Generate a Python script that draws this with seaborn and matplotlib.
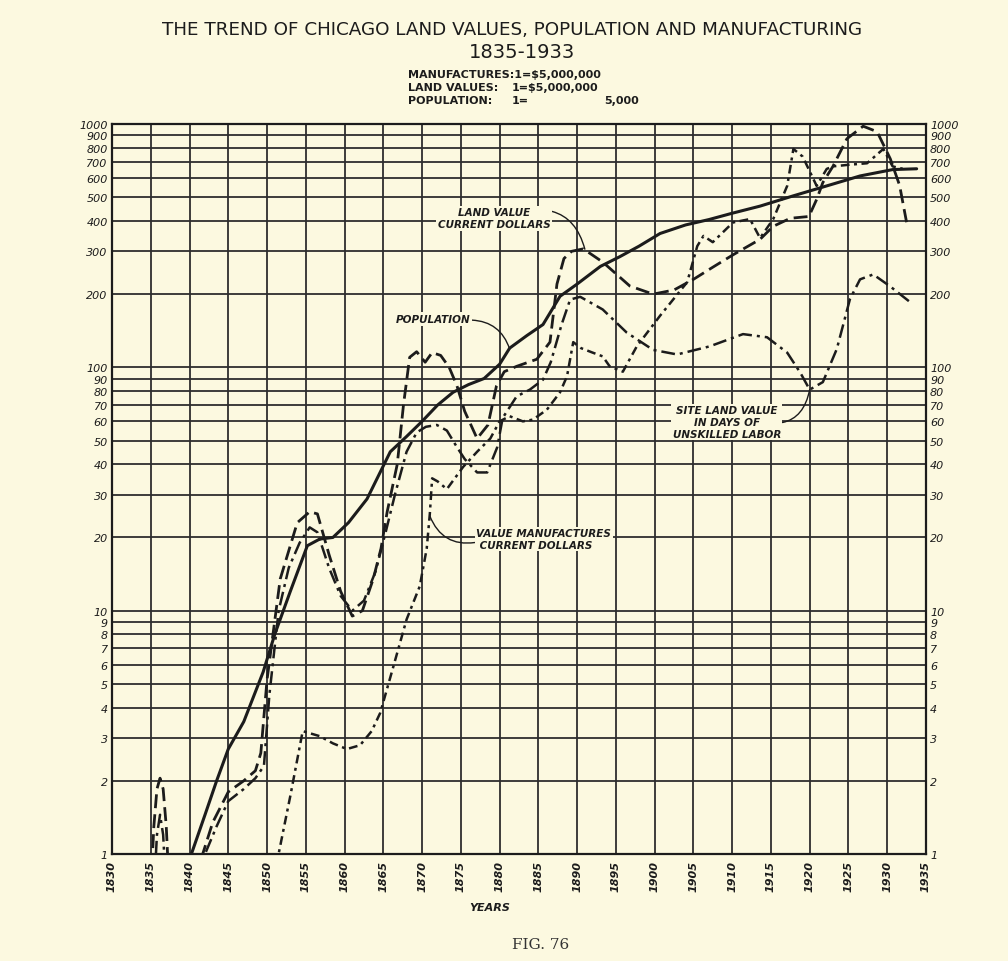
import numpy as np
import pandas as pd
import matplotlib
matplotlib.use("Agg")
import matplotlib.pyplot as plt
import seaborn as sns

# --- data (log scale units, see legend in title) ---
pop_years = [1840.0, 1842, 1843.5, 1845, 1847, 1849.5, 1851, 1853, 1855.2, 1856.8, 1858.5,
             1860.5, 1862.9, 1865.9, 1868, 1870, 1872, 1874, 1876, 1878, 1880, 1881.3,
             1883.5, 1885.6, 1887.8, 1890, 1893, 1895.5, 1898, 1900.7, 1904, 1907, 1910,
             1913.6, 1917.8, 1922.2, 1926.5, 1930.7, 1933.8]
pop_vals = [0.95, 1.45, 2.0, 2.7, 3.5, 5.6, 8.0, 12, 18.5, 19.7, 20.0,
            23, 28.8, 45, 52, 60, 70, 79, 85, 90, 103, 120,
            135, 150, 196, 220, 260, 285, 315, 355, 385, 405, 430,
            460, 506, 557, 612, 650, 655]

land_early_years = [1834.9, 1835.4, 1835.8, 1836.2, 1836.6, 1837.0, 1837.5]
land_early_vals = [0.6, 1.3, 1.85, 2.05, 1.85, 1.3, 0.6]
land_years = [1840.8, 1841.7, 1843, 1845, 1847, 1848.5, 1849.2, 1850, 1851.7, 1853.9,
              1855.5, 1856.5, 1858, 1859.5, 1861, 1862.3, 1863.7, 1864.7, 1865.5, 1866.8,
              1867.6, 1868.4, 1869.3, 1870.4, 1871.3, 1872.4, 1873.5, 1874.5, 1875.5, 1877.1,
              1878.5, 1879.6, 1880.6, 1882.2, 1884.8, 1886.5, 1887.4, 1888.3, 1889.3, 1890.8,
              1893.3, 1896.8, 1899.8, 1902.5, 1905, 1907.5, 1910.1, 1913.6, 1915.3, 1917.5,
              1919.9, 1920.9, 1921.7, 1923, 1924.8, 1926.9, 1928.7, 1930.4, 1931.6, 1932.5]
land_vals = [0.8, 1.0, 1.35, 1.8, 2.0, 2.2, 2.6, 5.2, 13.5, 23,
             25.5, 25, 17, 12, 9.5, 10, 13.5, 18, 25.5, 40,
             70, 110, 116, 105, 115, 112, 100, 84, 66, 51,
             58, 84, 96, 101, 108, 127, 220, 280, 300, 307,
             271, 216, 200, 208, 230, 258, 290, 336, 380, 410,
             417, 490, 575, 670, 870, 980, 930, 720, 560, 395]

site_early_years = [1835.3, 1835.8, 1836.2, 1836.6, 1837.1]
site_early_vals = [0.6, 1.2, 1.45, 1.2, 0.6]
site_years = [1841.2, 1842, 1843.5, 1845, 1847, 1848.5, 1849.6, 1850.3, 1851.5, 1852.8,
              1854.2, 1855.5, 1856.5, 1858, 1859.5, 1861, 1862.5, 1864, 1865.3, 1866.5,
              1868, 1869.3, 1870.5, 1871.9, 1873.2, 1874.5, 1875.5, 1877.1, 1878.4, 1879.7,
              1880.4, 1882.2, 1883.9, 1885.6, 1886.6, 1888, 1889.1, 1890.4, 1893.3, 1896.4,
              1899.8, 1902.9, 1907.1, 1911.4, 1914.5, 1917.1, 1918.8, 1920, 1921.7, 1923.5,
              1925.2, 1926.5, 1928.2, 1930.4, 1933]
site_vals = [0.8, 1.0, 1.3, 1.65, 1.85, 2.05, 2.3, 4.5, 10, 15,
             19, 22, 21, 15, 11.5, 10, 11, 14.5, 21, 30,
             45, 54, 57, 58, 55, 47, 42, 37, 37, 47,
             62, 76, 81, 89, 105, 150, 190, 195, 173, 139,
             118, 113, 122, 137, 133, 115, 95, 81, 87, 119,
             191, 230, 241, 215, 185]

manuf_years = [1851.2, 1853, 1854.6, 1856.8, 1858.5, 1860.3, 1862, 1863.5, 1864.6, 1866.3,
               1868, 1869.7, 1870.6, 1871.0, 1871.3, 1872.0, 1873.2, 1875.3, 1877.1, 1878.8,
               1880, 1881.3, 1883, 1884.3, 1886.1, 1887.8, 1888.7, 1889.5, 1890.5, 1892,
               1893.3, 1894.2, 1895.9, 1897.7, 1900.7, 1904.2, 1905.5, 1906.3, 1907.5, 1910.1,
               1912.3, 1913.6, 1915.3, 1917.1, 1917.9, 1919.1, 1920.9, 1922.2, 1923, 1925,
               1927.4, 1929.5, 1930.7, 1932]
manuf_vals = [0.9, 1.73, 3.2, 3.05, 2.85, 2.7, 2.8, 3.2, 3.8, 5.9,
              9.2, 12.6, 18, 25, 35, 34, 31.6, 39, 45, 51,
              60, 63, 60, 61, 67, 79, 92, 127, 120, 115,
              111, 101, 96, 122, 163, 224, 315, 347, 327, 394,
              407, 340, 407, 557, 790, 735, 557, 654, 670, 680,
              690, 790, 670, 655]

y_ticks = [1, 2, 3, 4, 5, 6, 7, 8, 9, 10, 20, 30, 40, 50, 60, 70, 80, 90,
           100, 200, 300, 400, 500, 600, 700, 800, 900, 1000]
x_ticks = list(range(1830, 1936, 5))

BG = "#fcf9e0"
INK = "#1c1c1c"

sns.set_style("white")
plt.rcParams["font.family"] = ["DejaVu Sans"]

fig = plt.figure(figsize=(10.08, 9.62), dpi=100, facecolor=BG)
ax = fig.add_axes([0.1111, 0.1112, 0.8075, 0.7588], facecolor=BG)

styles = [
    (pop_years, pop_vals, "-", 2.2),
    (land_early_years, land_early_vals, (0, (5, 2.2)), 2.0),
    (land_years, land_vals, (0, (5, 2.2)), 2.0),
    (site_early_years, site_early_vals, (0, (5.5, 2, 1.2, 2)), 1.8),
    (site_years, site_vals, (0, (5.5, 2, 1.2, 2)), 1.8),
    (manuf_years, manuf_vals, (0, (3.5, 1.8, 1.2, 1.8)), 1.8),
]
for xs, ys, ls, lw in styles:
    df = pd.DataFrame({"year": xs, "value": ys})
    sns.lineplot(data=df, x="year", y="value", ax=ax, color=INK, linestyle=ls,
                 linewidth=lw, sort=False, estimator=None, zorder=3)

ax.set_yscale("log")
ax.set_xlim(1830, 1935)
ax.set_ylim(1, 1000)
ax.set_xticks(x_ticks)
ax.set_xticklabels([str(y) for y in x_ticks], rotation=90, fontstyle="italic",
                   fontweight="bold", fontsize=8, color=INK)
ax.set_yticks(y_ticks)
ax.set_yticks([], minor=True)
ax.set_yticklabels([str(v) for v in y_ticks], fontstyle="italic", fontsize=8, color=INK)
ax.tick_params(axis="y", length=0, pad=3, labelright=True)
ax.tick_params(axis="x", length=0, pad=4)
ax.grid(True, which="major", color="#2e2e2e", linewidth=1.3)
ax.set_axisbelow(True)
for s in ax.spines.values():
    s.set_visible(True)
    s.set_color(INK)
    s.set_linewidth(1.6)
ax.set_xlabel("")
ax.set_ylabel("")

lab = dict(fontsize=7.5, fontstyle="italic", fontweight="bold", color=INK,
           bbox=dict(boxstyle="square,pad=0.15", fc=BG, ec="none"), zorder=5)
arr = dict(arrowstyle="-", color=INK, lw=1.0, shrinkA=0, shrinkB=0)

ax.annotate("LAND VALUE\nCURRENT DOLLARS", xy=(1891.0, 306), xytext=(1879.3, 410),
            ha="center", va="center", multialignment="center",
            arrowprops=dict(arr, connectionstyle="arc3,rad=-0.45", relpos=(0.78, 0.85)), **lab)
ax.annotate("POPULATION", xy=(1881.3, 119), xytext=(1871.4, 158),
            ha="center", va="center",
            arrowprops=dict(arr, connectionstyle="arc3,rad=-0.35", relpos=(1.0, 0.4)), **lab)
ax.annotate("SITE LAND VALUE\nIN DAYS OF\nUNSKILLED LABOR", xy=(1920.0, 81), xytext=(1909.3, 59.6),
            ha="center", va="center", multialignment="center",
            arrowprops=dict(arr, connectionstyle="arc3,rad=0.5", relpos=(0.82, 0.5)), **lab)
ax.annotate("VALUE MANUFACTURES\n CURRENT DOLLARS", xy=(1871.0, 24.5), xytext=(1877.0, 19.7),
            ha="left", va="center", multialignment="left",
            arrowprops=dict(arr, connectionstyle="arc3,rad=-0.4", relpos=(0.0, 0.35)), **lab)

fig.text(0.508, 0.969, "THE TREND OF CHICAGO LAND VALUES, POPULATION AND MANUFACTURING",
         ha="center", va="center", fontsize=13.2, color=INK)
fig.text(0.518, 0.945, "1835-1933", ha="center", va="center", fontsize=14, color=INK)
sub = dict(fontsize=8, fontweight="bold", color=INK, va="center")
fig.text(0.405, 0.922, "MANUFACTURES:1=$5,000,000", ha="left", **sub)
for yy, name, val in [(0.9085, "LAND VALUES:", "1=$5,000,000"),
                      (0.895, "POPULATION:", "1=")]:
    fig.text(0.405, yy, name, ha="left", **sub)
    fig.text(0.508, yy, val, ha="left", **sub)
fig.text(0.634, 0.895, "5,000", ha="right", **sub)

fig.text(0.486, 0.056, "YEARS", ha="center", va="center", fontsize=8,
         fontstyle="italic", fontweight="bold", color=INK)
fig.text(0.536, 0.018, "FIG. 76", ha="center", va="center", fontsize=11,
         family="DejaVu Serif", color="#333333")

fig.savefig("out.png", dpi=100, facecolor=BG)
